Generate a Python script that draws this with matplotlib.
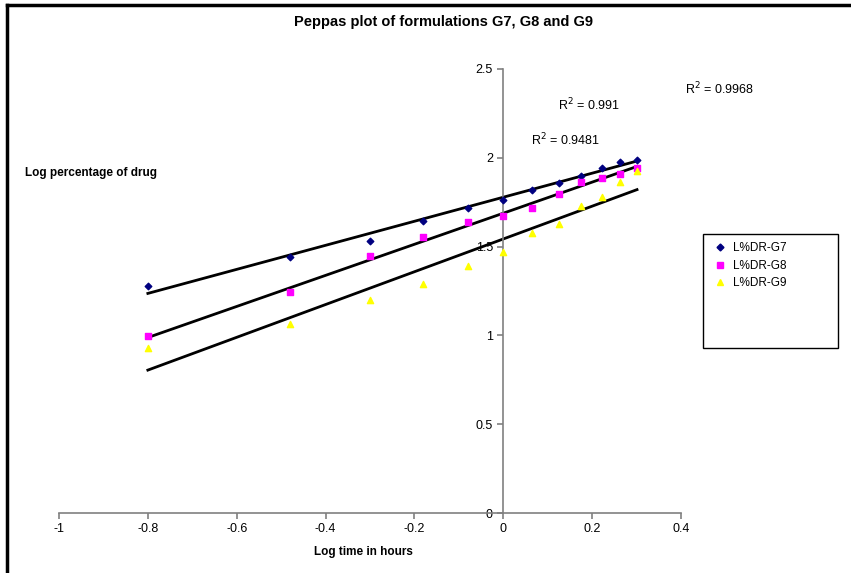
import numpy as np
from matplotlib import pyplot as plt
from matplotlib.lines import Line2D
from matplotlib.patches import Rectangle

plt.rcParams['font.family'] = ['Liberation Sans', 'DejaVu Sans']

# log time (hours)
log_time = [-0.80, -0.48, -0.30, -0.18, -0.08, 0.00, 0.065, 0.125, 0.176, 0.222, 0.263, 0.301]

# log percentage of drug released
g7 = [1.280, 1.440, 1.530, 1.644, 1.717, 1.762, 1.819, 1.858, 1.898, 1.943, 1.976, 1.988]
g8 = [0.998, 1.244, 1.445, 1.554, 1.637, 1.672, 1.719, 1.794, 1.866, 1.884, 1.907, 1.941]
g9 = [0.927, 1.066, 1.199, 1.289, 1.393, 1.470, 1.578, 1.627, 1.729, 1.781, 1.866, 1.924]

# trendlines as drawn (slope, intercept)
trend_g7 = (0.677, 1.778)
trend_g8 = (0.875, 1.688)
trend_g9 = (0.923, 1.543)
r2_labels = ["R$^2$ = 0.9968", "R$^2$ = 0.991", "R$^2$ = 0.9481"]
series_names = ["L%DR-G7", "L%DR-G8", "L%DR-G9"]


def main():
    fig = plt.figure(figsize=(8.51, 5.73), dpi=100)
    ax = fig.add_axes([59 / 851, 1 - 513 / 573, 622 / 851, 444 / 573])

    # frame of the picture (only top and left survive)
    fig.add_artist(Line2D([7 / 851, 7 / 851], [0, 1 - 5 / 573], transform=fig.transFigure, color='black', lw=2.5))
    fig.add_artist(Line2D([7 / 851, 1], [1 - 5 / 573, 1 - 5 / 573], transform=fig.transFigure, color='black', lw=2.5))

    ax.scatter(log_time, g7, marker='D', s=11, color='#000080', zorder=3)
    ax.scatter(log_time, g8, marker='s', s=20, color='#ff00ff', zorder=3)
    ax.scatter(log_time, g9, marker='^', s=20, color='#ffff00', zorder=3)

    xt = np.array([log_time[0], log_time[-1]])
    for slope, icpt in [trend_g7, trend_g8, trend_g9]:
        ax.plot(xt, slope * xt + icpt, color='black', lw=2, zorder=2)

    ax.set_xlim(-1, 0.4)
    ax.set_ylim(0, 2.5)
    ax.set_xticks(np.arange(-1, 0.41, 0.2))
    ax.set_xticklabels(['-1', '-0.8', '-0.6', '-0.4', '-0.2', '0', '0.2', '0.4'])
    ax.set_yticks([0, 0.5, 1, 1.5, 2, 2.5])
    ax.set_yticklabels(['0', '0.5', '1', '1.5', '2', '2.5'])

    ax.spines['top'].set_visible(False)
    ax.spines['right'].set_visible(False)
    ax.spines['left'].set_position(('data', 0))
    ax.spines['bottom'].set_position(('data', 0))
    for sp in ['left', 'bottom']:
        ax.spines[sp].set_color('#808080')
        ax.spines[sp].set_linewidth(1.2)
    ax.tick_params(colors='#808080', labelcolor='black', labelsize=9, length=4, width=1.2)

    ax.text(0.124, 2.27, r2_labels[1], fontsize=9)
    ax.text(0.408, 2.36, r2_labels[0], fontsize=9, clip_on=False)
    ax.text(0.063, 2.07, r2_labels[2], fontsize=9)

    fig.text(443 / 851, 1 - 22 / 573, "Peppas plot of formulations G7, G8 and G9",
             ha='center', va='center', fontsize=10.5, fontweight='bold')
    fig.text(25 / 851, 1 - 173 / 573, "Log percentage of drug", ha='left', va='center',
             fontsize=8.5, fontweight='bold')
    fig.text(363 / 851, 1 - 552 / 573, "Log time in hours", ha='center', va='center',
             fontsize=8.5, fontweight='bold')

    # legend box
    fig.add_artist(Rectangle((703 / 851, 1 - 348 / 573), 135 / 851, 114 / 573,
                             transform=fig.transFigure, fill=False, edgecolor='black', lw=1.0))
    handles = [Line2D([], [], ls='', marker='D', ms=3.5, color='#000080'),
               Line2D([], [], ls='', marker='s', ms=5, color='#ff00ff'),
               Line2D([], [], ls='', marker='^', ms=5, color='#ffff00')]
    fig.legend(handles, series_names, loc='upper left',
               bbox_to_anchor=(705 / 851, 1 - 233 / 573), fontsize=8.5,
               frameon=False, handlelength=1.0, handletextpad=0.6,
               borderpad=0.3, labelspacing=0.45)

    fig.savefig('out.png', dpi=100)


if __name__ == '__main__':
    main()
